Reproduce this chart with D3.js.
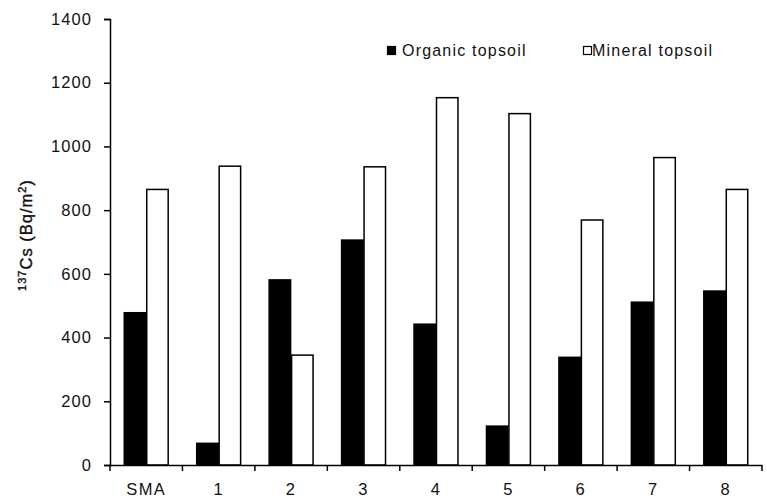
<!DOCTYPE html>
<html><head><meta charset="utf-8">
<script src="https://cdn.jsdelivr.net/npm/d3@7"></script>
<style>body{margin:0;background:#fff}svg{display:block}text{font-family:"Liberation Sans",Arial,sans-serif;fill:#111}</style>
</head><body><div id="chart"></div>
<script>
const categories = ["SMA","1","2","3","4","5","6","7","8"];
const seriesNames = ["Organic topsoil","Mineral topsoil"];
const organic = [478, 68, 581, 706, 442, 122, 338, 511, 546];
const mineral = [865, 938, 345, 936, 1153, 1103, 769, 965, 865];
const yTicks = [0,200,400,600,800,1000,1200,1400];

const W = 767, H = 500;
const m = {left:110, right:5, top:19, bottom:35};
const svg = d3.select("#chart").append("svg").attr("width",W).attr("height",H);

const x0 = d3.scaleBand().domain(categories).range([m.left, W - m.right]).padding(0);
const x1 = d3.scaleBand().domain(seriesNames)
  .range([x0.bandwidth()*0.19, x0.bandwidth()*0.81]).padding(0);
const y = d3.scaleLinear().domain([0,1400]).range([H - m.bottom, m.top]);

const data = categories.map((c,i)=>({cat:c, vals:[
  {s:seriesNames[0], v:organic[i]}, {s:seriesNames[1], v:mineral[i]}]}));

// bars
const g = svg.append("g");
g.selectAll("g.grp").data(data).join("g")
  .attr("transform", d=>`translate(${x0(d.cat)},0)`)
  .selectAll("rect").data(d=>d.vals).join("rect")
  .attr("x", d=>x1(d.s)+0.5)
  .attr("width", x1.bandwidth()-1)
  .attr("y", d=>y(d.v))
  .attr("height", d=>y(0)-y(d.v))
  .attr("fill", d=>d.s===seriesNames[0]?"#000":"#fff")
  .attr("stroke","#000").attr("stroke-width",1.5);

// y axis
const ya = svg.append("g").attr("transform",`translate(${m.left},0)`)
  .call(d3.axisLeft(y).tickValues(yTicks).tickSize(6).tickPadding(12).tickFormat(d3.format("d")));
ya.select(".domain").attr("stroke","#000").attr("stroke-width",1.5);
ya.selectAll(".tick line").attr("stroke","#000").attr("stroke-width",1.5);
ya.selectAll(".tick text").attr("font-size",16.5).attr("letter-spacing","1.1px")
  .attr("font-family","Liberation Sans, Arial, sans-serif").attr("fill","#111");

// x axis
const xa = svg.append("g").attr("transform",`translate(0,${y(0)})`)
  .call(d3.axisBottom(x0).tickSize(0).tickPadding(18));
xa.select(".domain").attr("stroke","#000").attr("stroke-width",1.5);
xa.selectAll(".tick text").attr("font-size",16.5).attr("letter-spacing","1.4px")
  .attr("font-family","Liberation Sans, Arial, sans-serif").attr("fill","#111");
// boundary ticks
const bounds = categories.map(c=>x0(c)).concat([x0(categories[categories.length-1])+x0.bandwidth()]);
xa.selectAll("line.bt").data(bounds).join("line").attr("class","bt")
  .attr("x1",d=>d).attr("x2",d=>d).attr("y1",0).attr("y2",6)
  .attr("stroke","#000").attr("stroke-width",1.5);

// y title
const yt = svg.append("text").attr("transform","translate(32,235) rotate(-90)")
  .attr("text-anchor","middle").attr("font-size",16.5).attr("letter-spacing","1px")
  .attr("stroke","#111").attr("stroke-width",0.4);
yt.append("tspan").attr("font-size",11).attr("dy",-6).text("137");
yt.append("tspan").attr("dy",6).text("Cs (Bq/m");
yt.append("tspan").attr("font-size",11).attr("dy",-6).text("2");
yt.append("tspan").attr("dy",6).text(")");

// legend
const leg = [{s:seriesNames[0], x:387},{s:seriesNames[1], x:583}];
const lg = svg.selectAll("g.leg").data(leg).join("g").attr("transform",d=>`translate(${d.x},46)`);
lg.append("rect").attr("x",0.5).attr("y",0.5).attr("width",8).attr("height",8)
  .attr("fill",d=>d.s===seriesNames[0]?"#000":"#fff").attr("stroke","#000").attr("stroke-width",1.2);
lg.append("text").attr("x",d=>d.s===seriesNames[0]?15:9).attr("y",9.5)
  .attr("font-size",16).attr("letter-spacing","1.2px").text(d=>d.s);
</script></body></html>
